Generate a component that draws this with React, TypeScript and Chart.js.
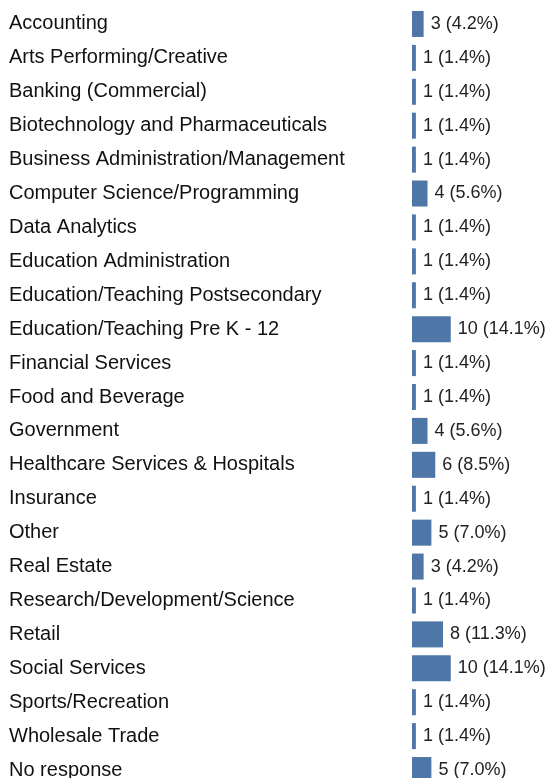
import React, { useEffect, useRef } from "react";
import { Chart, registerables } from "chart.js";

Chart.register(...registerables);

const categories: string[] = [
  "Accounting",
  "Arts Performing/Creative",
  "Banking (Commercial)",
  "Biotechnology and Pharmaceuticals",
  "Business Administration/Management",
  "Computer Science/Programming",
  "Data Analytics",
  "Education Administration",
  "Education/Teaching Postsecondary",
  "Education/Teaching Pre K - 12",
  "Financial Services",
  "Food and Beverage",
  "Government",
  "Healthcare Services & Hospitals",
  "Insurance",
  "Other",
  "Real Estate",
  "Research/Development/Science",
  "Retail",
  "Social Services",
  "Sports/Recreation",
  "Wholesale Trade",
  "No response",
];

const counts: number[] = [3, 1, 1, 1, 1, 4, 1, 1, 1, 10, 1, 1, 4, 6, 1, 5, 3, 1, 8, 10, 1, 1, 5];

const percents: string[] = [
  "4.2%", "1.4%", "1.4%", "1.4%", "1.4%", "5.6%", "1.4%", "1.4%", "1.4%", "14.1%",
  "1.4%", "1.4%", "5.6%", "8.5%", "1.4%", "7.0%", "4.2%", "1.4%", "11.3%", "14.1%",
  "1.4%", "1.4%", "7.0%",
];

const FONT = "'Liberation Sans', Arial, Helvetica, sans-serif";

export default function App() {
  const canvasRef = useRef<HTMLCanvasElement | null>(null);

  useEffect(() => {
    if (!canvasRef.current) return;
    const valueLabels = {
      id: "valueLabels",
      afterDatasetsDraw(chart: any) {
        const ctx = chart.ctx;
        const meta = chart.getDatasetMeta(0);
        ctx.save();
        ctx.font = `18px ${FONT}`;
        ctx.fillStyle = "#222222";
        ctx.textAlign = "left";
        ctx.textBaseline = "middle";
        meta.data.forEach((bar: any, i: number) => {
          ctx.fillText(`${counts[i]} (${percents[i]})`, bar.x + 7, bar.y);
        });
        ctx.restore();
      },
    };
    const chart = new Chart(canvasRef.current, {
      type: "bar",
      data: {
        labels: categories,
        datasets: [
          {
            data: counts,
            backgroundColor: "#4e76a6",
            borderWidth: 0,
            barPercentage: 0.767,
            categoryPercentage: 1,
          },
        ],
      },
      options: {
        indexAxis: "y",
        animation: false,
        responsive: true,
        maintainAspectRatio: false,
        layout: { padding: { left: 9, top: 7, right: 0, bottom: 0 } },
        plugins: {
          legend: { display: false },
          tooltip: { enabled: false },
        },
        scales: {
          x: {
            display: false,
            min: 0,
            max: 35.6,
          },
          y: {
            grid: { display: false },
            border: { display: false },
            ticks: {
              crossAlign: "far",
              padding: 0,
              color: "#111111",
              font: { family: FONT, size: 20 },
              autoSkip: false,
            },
            afterFit(scale: any) {
              scale.width = 403;
              scale.paddingTop = 0;
              scale.paddingBottom = 0;
            },
          },
        },
      },
      plugins: [valueLabels],
    });
    return () => chart.destroy();
  }, []);

  return (
    <div style={{ position: "fixed", left: 0, top: 0, width: 550, height: 778, overflow: "hidden", background: "#fff" }}>
      <div style={{ position: "relative", width: 550, height: 787 }}>
        <canvas ref={canvasRef} />
      </div>
    </div>
  );
}
